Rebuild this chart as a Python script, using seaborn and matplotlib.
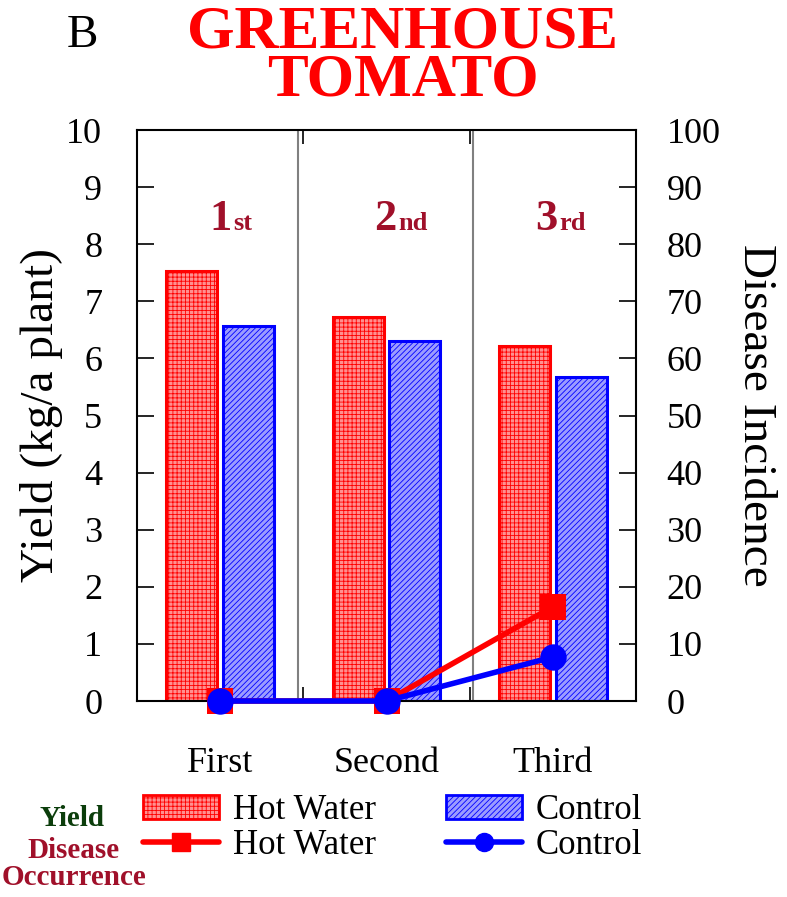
import matplotlib
matplotlib.use("Agg")
import matplotlib.pyplot as plt
import seaborn as sns
import pandas as pd
from matplotlib.patches import Patch
from matplotlib.lines import Line2D

# ---- data ----
categories = ["First", "Second", "Third"]
treatments = ["Hot Water", "Control"]
yield_hot = [7.53, 6.73, 6.21]
yield_ctrl = [6.57, 6.31, 5.68]
disease_hot = [0.0, 0.0, 16.5]
disease_ctrl = [0.0, 0.0, 7.7]
ordinals = [("1", "st"), ("2", "nd"), ("3", "rd")]
yticks_left = list(range(0, 11))
yticks_right = list(range(0, 101, 10))

sns.set_theme(style="white")
plt.rcParams["font.family"] = ["Liberation Serif", "DejaVu Serif"]
plt.rcParams["hatch.linewidth"] = 0.6
plt.rcParams["text.color"] = "black"
plt.rcParams["axes.labelcolor"] = "black"
plt.rcParams["xtick.color"] = "black"
plt.rcParams["ytick.color"] = "black"

RED = "#ff0000"
BLUE = "#0000ff"
DARKRED = "#a0102a"
DARKGREEN = "#0b3d0b"

fig = plt.figure(figsize=(7.87, 8.97), dpi=100)
ax = fig.add_axes([137/787, 1-701/897, (636-137)/787, (701-130)/897])

df = pd.DataFrame({
    "cat": categories * 2,
    "trt": [treatments[0]] * 3 + [treatments[1]] * 3,
    "yield": yield_hot + yield_ctrl,
})
sns.barplot(data=df, x="cat", y="yield", hue="trt", order=categories,
            hue_order=treatments, width=0.68, gap=0.1, ax=ax,
            palette=[RED, BLUE], legend=False, errorbar=None, zorder=2)

styles = [("#ff9090", RED, "++++"), ("#9c9cff", BLUE, "//////")]
for cont, (fc, ec, h) in zip(ax.containers, styles):
    for p in cont:
        p.set_facecolor(fc)
        p.set_edgecolor(ec)
        p.set_hatch(h)
        p.set_linewidth(2.2)

ax.set_xlim(-0.5, 2.5)
ax.set_ylim(0, 10)
ax.set_yticks(yticks_left)
ax.set_yticklabels([str(t) for t in yticks_left])
ax.set_xlabel("")
ax.set_ylabel("Yield (kg/a plant)", fontsize=34, labelpad=2)
ax.tick_params(axis="y", direction="in", length=12, width=1.2, labelsize=26,
               pad=25, left=True, right=False)
ax.tick_params(axis="x", length=0, labelsize=26, pad=33)
ax.set_xticks([0.5, 1.5], minor=True)
ax.tick_params(axis="x", which="minor", direction="in", length=10, width=1.2,
               bottom=True, top=True)
for s in ax.spines.values():
    s.set_color("black")
    s.set_linewidth(1.5)

for xv in (0.468, 1.52):
    ax.axvline(xv, color="#808080", lw=1.5, zorder=1)

for i, (num, suf) in enumerate(ordinals):
    xc = [0.06, 1.05, 2.02][i]
    ax.text(xc + 0.01, 8.25, num, ha="right", va="baseline", fontsize=32,
            fontweight="bold", color=DARKRED)
    ax.text(xc + 0.02, 8.25, suf, ha="left", va="baseline", fontsize=19,
            fontweight="bold", color=DARKRED)

ax2 = ax.twinx()
x_idx = list(range(len(categories)))
sns.lineplot(x=x_idx, y=disease_hot, ax=ax2, color=RED, lw=4, marker="s",
             markersize=19, markeredgewidth=0, zorder=3)
sns.lineplot(x=x_idx, y=disease_ctrl, ax=ax2, color=BLUE, lw=4, marker="o",
             markersize=19, markeredgewidth=0, zorder=4)
for ln in ax2.lines:
    ln.set_clip_on(False)
ax2.set_ylim(0, 100)
ax2.set_xlim(-0.5, 2.5)
ax2.set_yticks(yticks_right)
ax2.set_yticklabels([str(t) for t in yticks_right])
ax2.set_ylabel("Disease Incidence", fontsize=34, rotation=270, labelpad=40)
ax2.tick_params(axis="y", direction="in", length=12, width=1.2, labelsize=26,
                pad=22, right=True)
for s in ax2.spines.values():
    s.set_visible(False)

# titles
fig.text(82/787, 1-36/897, "B", fontsize=34, ha="center", va="center")
fig.text(403/787, 1-4/897, "GREENHOUSE\nTOMATO", fontsize=44,
         fontweight="bold", color=RED, ha="center", va="top",
         multialignment="center", linespacing=0.82)

# legend
handles = [
    Patch(facecolor="#ff9090", edgecolor=RED, hatch="++++", lw=2),
    Line2D([], [], color=RED, lw=4, marker="s", markersize=13),
    Patch(facecolor="#9c9cff", edgecolor=BLUE, hatch="//////", lw=2),
    Line2D([], [], color=BLUE, lw=4, marker="o", markersize=13),
]
labels = ["Hot Water", "Hot Water", "Control", "Control"]
fig.legend(handles, labels, ncol=2, loc="upper left",
           bbox_to_anchor=(143/787, 1-794/897), frameon=False,
           fontsize=25, handlelength=2.2, handleheight=0.7,
           handletextpad=0.4, columnspacing=2.0, labelspacing=0.05,
           borderpad=0, borderaxespad=0)

fig.text(72/787, 1-818/897, "Yield", fontsize=21, fontweight="bold",
         color=DARKGREEN, ha="center", va="center")
fig.text(73/787, 1-850/897, "Disease", fontsize=21, fontweight="bold",
         color=DARKRED, ha="center", va="center")
fig.text(2/787, 1-877/897, "Occurrence", fontsize=21, fontweight="bold",
         color=DARKRED, ha="left", va="center")

fig.savefig("out.png", dpi=100)
